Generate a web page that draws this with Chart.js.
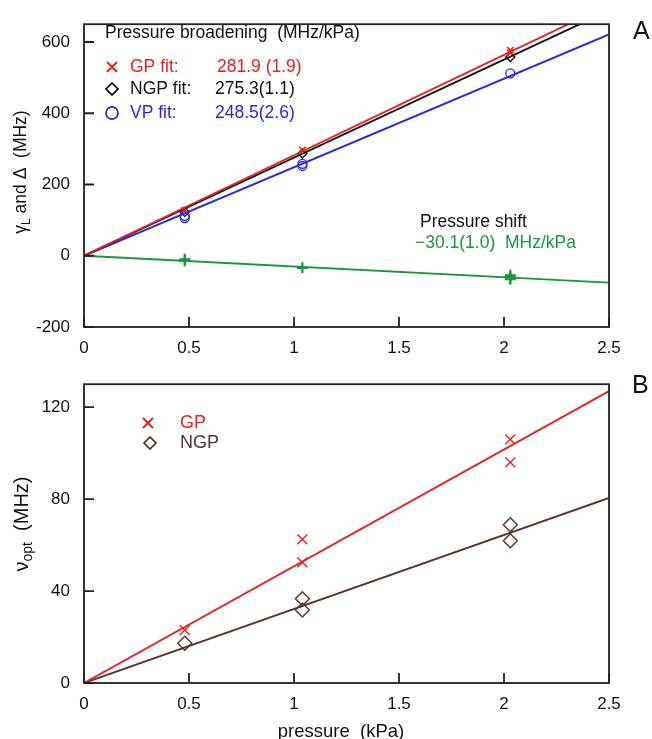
<!DOCTYPE html>
<html>
<head>
<meta charset="utf-8">
<script src="https://cdn.jsdelivr.net/npm/chart.js@4.4.1/dist/chart.umd.min.js"></script>
<style>
  html, body { margin: 0; padding: 0; background: #fff; }
  #wrapA { position: absolute; left: 0; top: 0; width: 652px; height: 360px; }
  #wrapB { position: absolute; left: 0; top: 360px; width: 652px; height: 379px; }
</style>
</head>
<body>
<div id="wrapA"><canvas id="cA" width="652" height="360"></canvas></div>
<div id="wrapB"><canvas id="cB" width="652" height="379"></canvas></div>
<script>
// ---------- data (panel A) ----------
const xTicks = [0, 0.5, 1, 1.5, 2, 2.5];
const yTicksA = [-200, 0, 200, 400, 600];
const gpX_A  = [0.48, 1.04, 2.03, 2.03];
const gpY_A  = [128, 297, 570, 577];
const ngpX_A = [0.48, 1.04, 2.03];
const ngpY_A = [123, 287, 558];
const vpX_A  = [0.48, 0.48, 1.04, 1.04, 2.03];
const vpY_A  = [106, 112, 252, 258, 512];
const shiftX_A = [0.48, 0.48, 1.04, 2.03, 2.03, 2.03];
const shiftY_A = [-10, -14, -34, -55, -60, -66];
const fitX = [0, 2.5];
const gpFitY_A  = [0, 704.8];
const ngpFitY_A = [0, 688.3];
const vpFitY_A  = [0, 621.3];
const shiftFitY_A = [0, -75.3];

// ---------- data (panel B) ----------
const yTicksB = [0, 40, 80, 120];
const gpX_B  = [0.48, 1.04, 1.04, 2.03, 2.03];
const gpY_B  = [23, 52.5, 62.5, 96, 106];
const ngpX_B = [0.48, 1.04, 1.04, 2.03, 2.03];
const ngpY_B = [17.3, 31.8, 36.7, 61.9, 68.9];
const gpFitY_B  = [0, 127];
const ngpFitY_B = [0, 80.5];

const RED = '#e8201e', BLACK = '#111', BLUE = '#2727e6', GREEN = '#17993a', BROWN = '#5a3232';
const FONT = '"Liberation Sans", Arial, Helvetica, sans-serif';

function pts(xs, ys) { return xs.map((x, i) => ({ x: x, y: ys[i] })); }

function scatter(xs, ys, color, style, r, lw) {
  return { type: 'scatter', data: pts(xs, ys), borderColor: color, backgroundColor: 'rgba(0,0,0,0)',
           pointStyle: style, pointRadius: r, pointHoverRadius: r, pointBorderWidth: lw, showLine: false };
}
function fitLine(ys, color) {
  return { type: 'line', data: pts(fitX, ys), borderColor: color, borderWidth: 1.9,
           pointRadius: 0, fill: false, tension: 0 };
}

function drawSegments(ctx, segs, x, y, align, size) {
  ctx.textBaseline = 'middle';
  ctx.textAlign = 'left';
  let w = 0;
  segs.forEach(s => {
    ctx.font = (s.sub ? Math.round(size * 0.7) : size) + 'px ' + FONT;
    w += ctx.measureText(s.t).width;
  });
  let cx = align === 'center' ? x - w / 2 : x;
  segs.forEach(s => {
    ctx.font = (s.sub ? Math.round(size * 0.7) : size) + 'px ' + FONT;
    ctx.fillText(s.t, cx, y + (s.sub ? size * 0.3 : 0));
    cx += ctx.measureText(s.t).width;
  });
}

const deco = {
  id: 'deco',
  afterDraw(chart, args, opts) {
    const { ctx, chartArea: a, scales: { x, y } } = chart;
    ctx.save();
    ctx.strokeStyle = '#222';
    ctx.lineWidth = 1.8;
    ctx.strokeRect(a.left, a.top, a.right - a.left, a.bottom - a.top);
    ctx.beginPath();
    x.ticks.forEach(t => { const p = x.getPixelForValue(t.value); ctx.moveTo(p, a.bottom); ctx.lineTo(p, a.bottom - 10); });
    y.ticks.forEach(t => { const p = y.getPixelForValue(t.value); ctx.moveTo(a.left, p); ctx.lineTo(a.left + 10, p); });
    ctx.stroke();
    (opts.markers || []).forEach(m => {
      ctx.strokeStyle = m.color; ctx.fillStyle = 'rgba(0,0,0,0)';
      Chart.helpers.drawPoint(ctx, { pointStyle: m.style, radius: m.r, rotation: 0, borderWidth: m.lw }, m.x, m.y);
      ctx.lineWidth = m.lw;
      ctx.stroke();
    });
    (opts.texts || []).forEach(t => {
      ctx.fillStyle = t.color || '#111';
      drawSegments(ctx, t.segs || [{ t: t.t }], t.x, t.y, t.align || 'left', t.size || 17.5);
    });
    if (opts.ytitle) {
      const yt = opts.ytitle;
      ctx.save();
      ctx.translate(yt.x, yt.y);
      ctx.rotate(-Math.PI / 2);
      ctx.fillStyle = '#111';
      drawSegments(ctx, yt.segs, 0, 0, 'center', yt.size);
      ctx.restore();
    }
    ctx.restore();
  }
};

function makeChart(id, datasets, yMin, yMax, yTicks, xH, padTop, decoOpts) {
  return new Chart(document.getElementById(id), {
    data: { datasets: datasets },
    options: {
      responsive: false, animation: false, devicePixelRatio: 1,
      layout: { padding: { top: padTop, right: 43, left: 0, bottom: 0 } },
      plugins: { legend: { display: false }, tooltip: { enabled: false }, deco: decoOpts },
      scales: {
        x: { type: 'linear', min: 0, max: 2.5,
             afterBuildTicks: s => { s.ticks = xTicks.map(v => ({ value: v })); },
             afterFit: s => { s.height = xH; },
             grid: { display: false, drawTicks: false }, border: { display: false },
             ticks: { padding: 11, color: '#111', font: { size: 17, family: FONT }, maxRotation: 0,
                      callback: v => String(v) } },
        y: { type: 'linear', min: yMin, max: yMax,
             afterBuildTicks: s => { s.ticks = yTicks.map(v => ({ value: v })); },
             afterFit: s => { s.width = 84; },
             grid: { display: false, drawTicks: false }, border: { display: false },
             ticks: { padding: 14, color: '#111', font: { size: 17, family: FONT },
                      callback: v => String(v) } }
      }
    },
    plugins: [deco]
  });
}

makeChart('cA', [
  fitLine(gpFitY_A, RED), fitLine(ngpFitY_A, BLACK), fitLine(vpFitY_A, BLUE), fitLine(shiftFitY_A, GREEN),
  scatter(gpX_A, gpY_A, RED, 'crossRot', 4.5, 1.6),
  scatter(ngpX_A, ngpY_A, BLACK, 'rectRot', 4.5, 1.3),
  scatter(vpX_A, vpY_A, BLUE, 'circle', 4.5, 1.3),
  scatter(shiftX_A, shiftY_A, GREEN, 'cross', 5.5, 2.2)
], -200, 650, yTicksA, 33, 12, {
  markers: [
    { style: 'crossRot', x: 112, y: 67, r: 7, lw: 1.5, color: RED },
    { style: 'rectRot', x: 112, y: 89, r: 6, lw: 1.3, color: BLACK },
    { style: 'circle', x: 112, y: 113, r: 6, lw: 1.3, color: BLUE }
  ],
  texts: [
    { t: 'Pressure broadening  (MHz/kPa)', x: 105, y: 33, color: BLACK },
    { t: 'GP fit:', x: 130, y: 67, color: RED },
    { t: '281.9 (1.9)', x: 217, y: 67, color: RED },
    { t: 'NGP fit:', x: 130, y: 89, color: BLACK },
    { t: '275.3(1.1)', x: 215, y: 89, color: BLACK },
    { t: 'VP fit:', x: 130, y: 113, color: BLUE },
    { t: '248.5(2.6)', x: 215, y: 113, color: BLUE },
    { t: 'Pressure shift', x: 420, y: 222, color: BLACK },
    { t: '\u221230.1(1.0)  MHz/kPa', x: 415, y: 243, color: GREEN },
    { t: 'A', x: 633, y: 32, size: 25, color: BLACK }
  ],
  ytitle: { x: 21, y: 172, size: 17.5, segs: [{ t: '\u03b3' }, { t: 'L', sub: true }, { t: ' and \u0394  (MHz)' }] }
});

makeChart('cB', [
  fitLine(gpFitY_B, RED), fitLine(ngpFitY_B, BROWN),
  scatter(gpX_B, gpY_B, RED, 'crossRot', 7, 1.4),
  scatter(ngpX_B, ngpY_B, BROWN, 'rectRot', 7, 1.4)
], 0, 130, yTicksB, 56, 8, {
  markers: [
    { style: 'crossRot', x: 148, y: 63, r: 7, lw: 1.4, color: RED },
    { style: 'rectRot', x: 150, y: 83, r: 6, lw: 1.4, color: BROWN }
  ],
  texts: [
    { t: 'GP', x: 180, y: 63, size: 18, color: RED },
    { t: 'NGP', x: 180, y: 83, size: 18, color: BROWN },
    { t: 'B', x: 632, y: 26, size: 25, color: BLACK },
    { t: 'pressure  (kPa)', x: 341, y: 372, size: 18.5, align: 'center', color: BLACK }
  ],
  ytitle: { x: 22, y: 164, size: 20, segs: [{ t: '\u03bd' }, { t: 'opt', sub: true }, { t: '  (MHz)' }] }
});
</script>
</body>
</html>
